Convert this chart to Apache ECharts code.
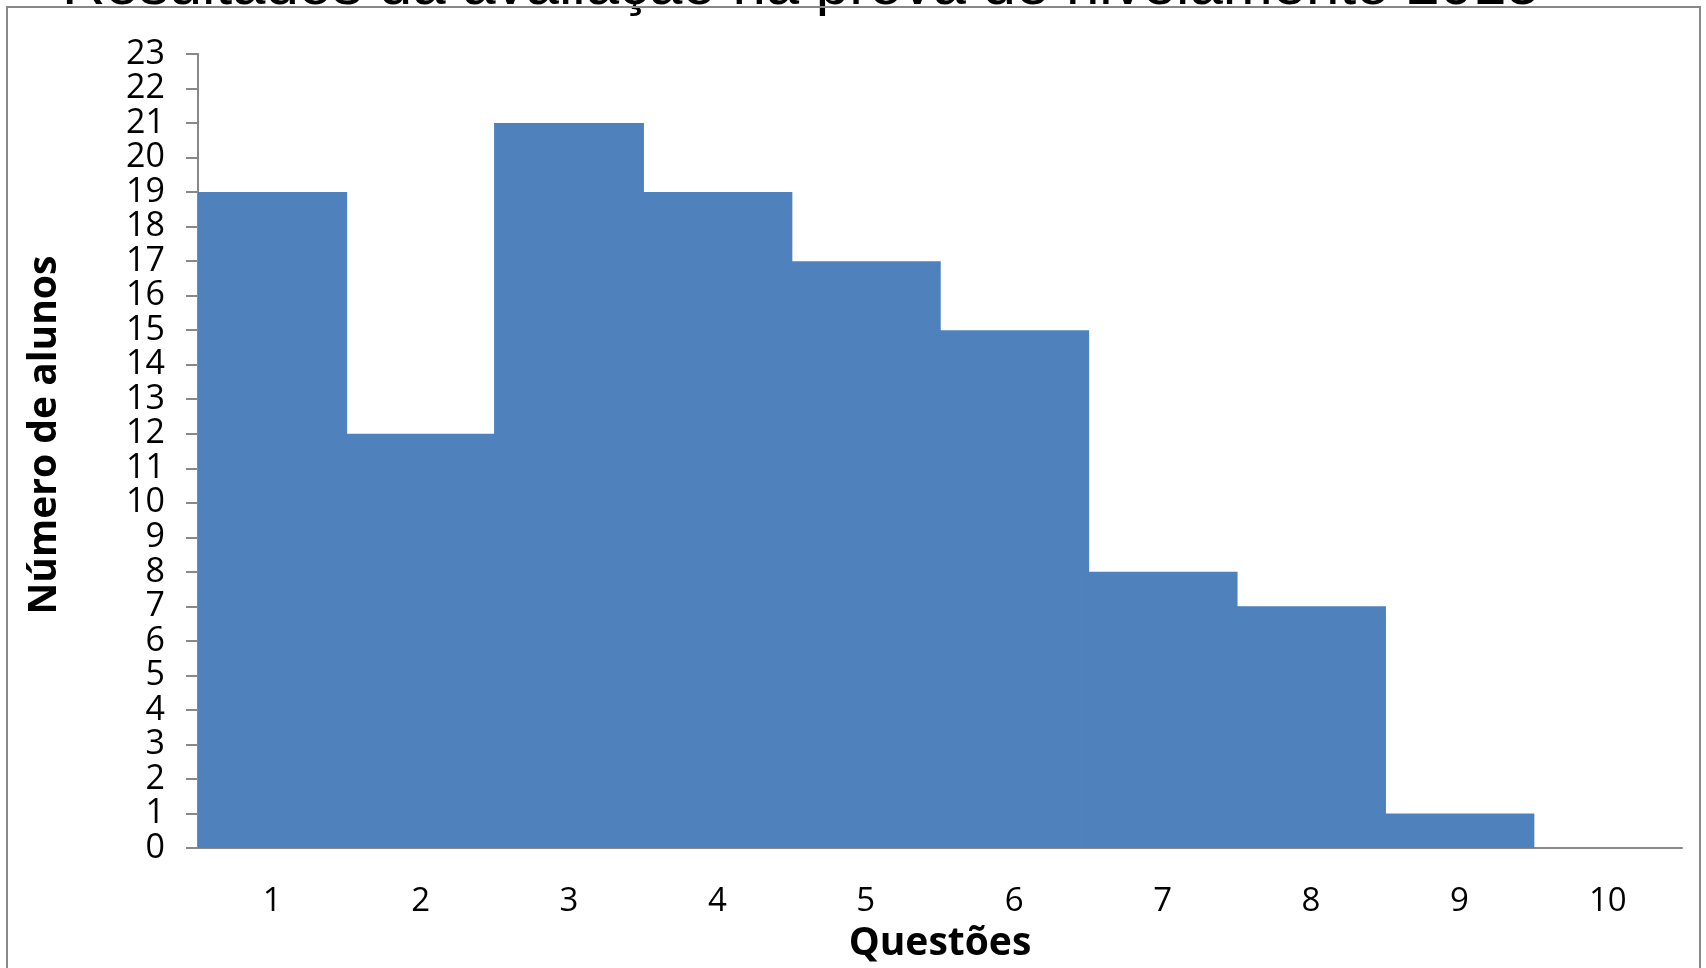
<!DOCTYPE html>
<html>
<head>
<meta charset="utf-8">
<script src="https://cdn.jsdelivr.net/npm/echarts@6/dist/echarts.min.js"></script>
<style>html,body{margin:0;padding:0;background:#fff}#c{width:1706px;height:968px}</style>
</head>
<body>
<div id="c"></div>
<script>
const titleText = 'Resultados da avaliação na prova de nivelamento 2015';
const categories = ['1', '2', '3', '4', '5', '6', '7', '8', '9', '10'];
const values = [19, 12, 21, 19, 17, 15, 8, 7, 1, 0];
const yName = 'Número de alunos';
const xName = 'Questões';

const chart = echarts.init(document.getElementById('c'));
chart.setOption({
  animation: false,
  backgroundColor: '#ffffff',
  grid: { left: 198, right: 24, top: 54, bottom: 112 },
  xAxis: {
    type: 'category',
    data: categories,
    name: xName,
    nameLocation: 'middle',
    nameGap: 76,
    nameTextStyle: { fontFamily: 'Open Sans', fontWeight: 'bold', fontSize: 39, color: '#000' },
    axisLine: { lineStyle: { color: '#888888', width: 2 } },
    axisTick: { show: false },
    axisLabel: { margin: 37, fontFamily: 'Open Sans', fontSize: 33, color: '#000' }
  },
  yAxis: {
    type: 'value',
    min: 0, max: 23, interval: 1,
    splitLine: { show: false },
    axisLine: { show: true, lineStyle: { color: '#888888', width: 2 } },
    axisTick: { show: true, length: 12, lineStyle: { color: '#888888', width: 2 } },
    axisLabel: { margin: 33, fontFamily: 'Open Sans', fontSize: 34, color: '#000' }
  },
  series: [{
    type: 'bar',
    data: values,
    barCategoryGap: '-1%',
    itemStyle: { color: '#4F81BD' }
  }],
  graphic: [
    {
      type: 'text', x: 62, y: -13, z: 10,
      style: { text: titleText, font: '60px "Liberation Sans", Arial', fill: '#000', textAlign: 'left', textVerticalAlign: 'middle' }
    },
    {
      type: 'rect', z: 20, silent: true,
      shape: { x: 7, y: 7, width: 1693, height: 1000 },
      style: { fill: 'none', stroke: '#888888', lineWidth: 2 }
    },
    {
      type: 'text', x: 45, y: 435, rotation: Math.PI / 2, z: 10,
      style: { text: yName, font: 'bold 39px "Open Sans"', fill: '#000', textAlign: 'center', textVerticalAlign: 'middle' }
    }
  ]
});
</script>
</body>
</html>
